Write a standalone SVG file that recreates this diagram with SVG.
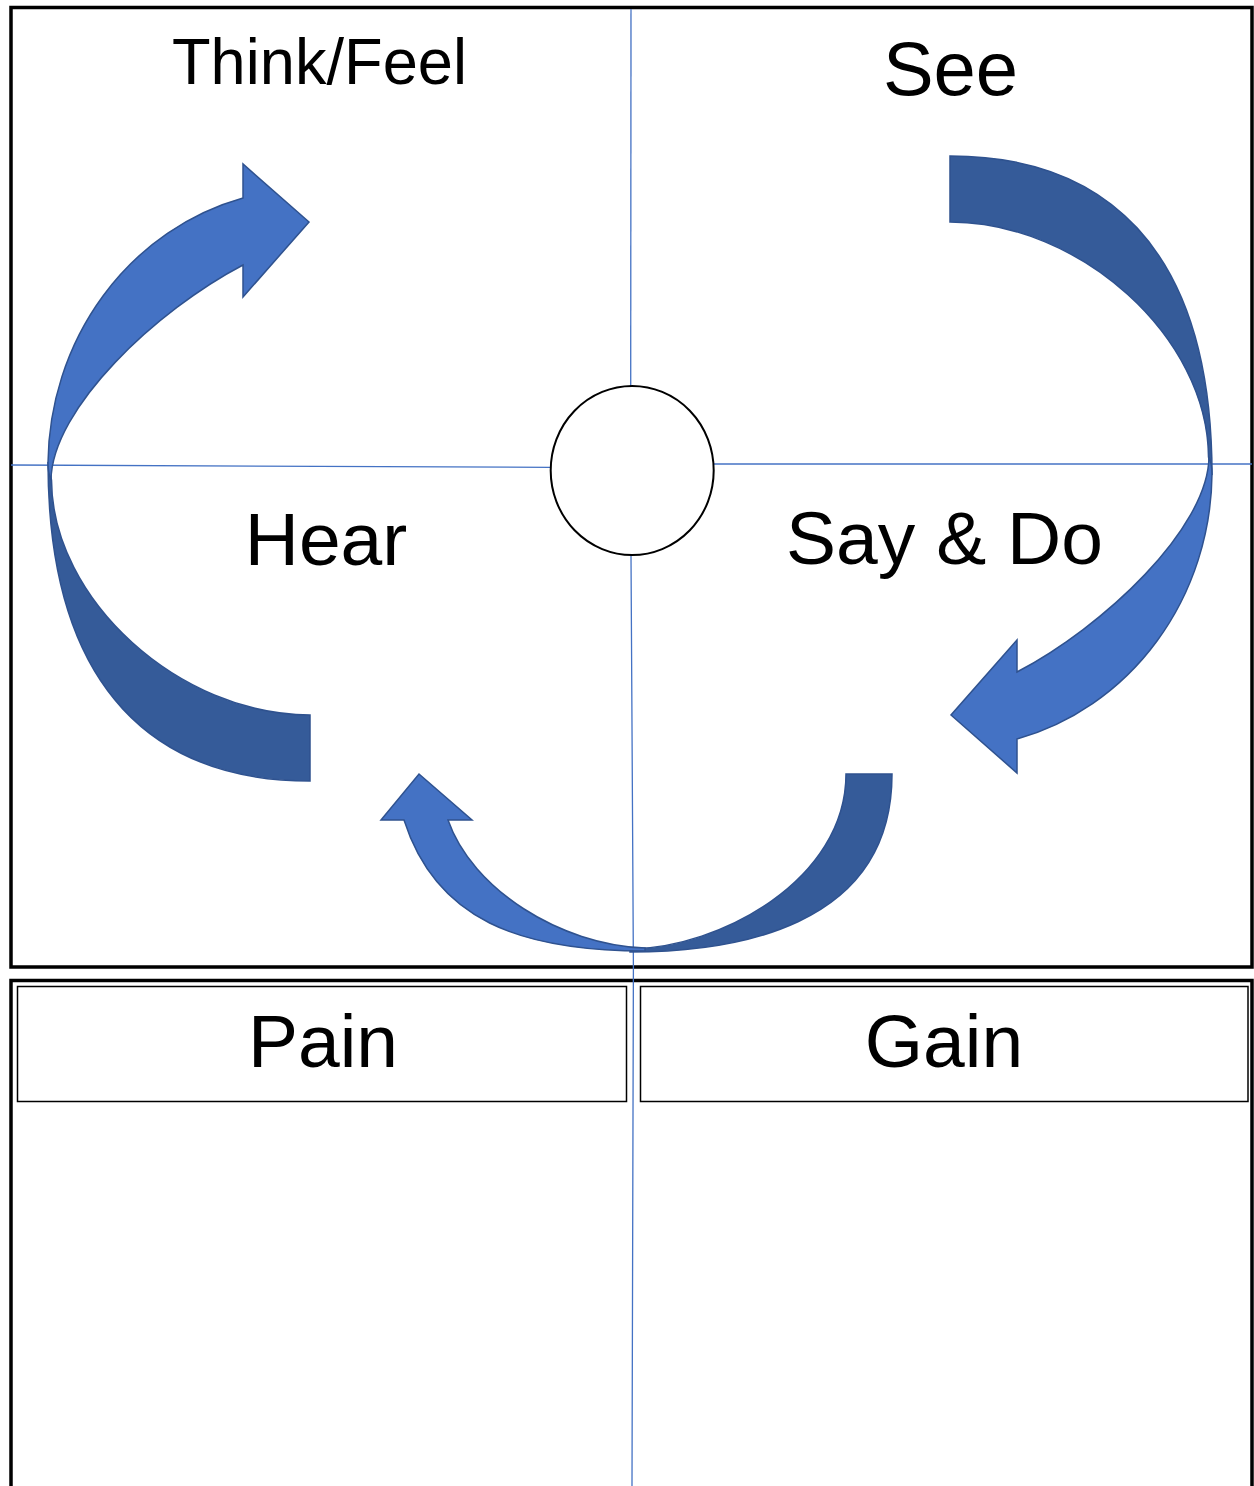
<svg xmlns="http://www.w3.org/2000/svg" width="1254" height="1486" viewBox="0 0 1254 1486">
<style>
.frame{fill:none;stroke:#000;stroke-width:3.5}
.hdr{fill:none;stroke:#000;stroke-width:1.5}
.guide{fill:none;stroke:#4472C4;stroke-width:1.3}
.lt{fill:#4472C4;stroke:#2F528F;stroke-width:1.5;stroke-linejoin:miter}
.dk{fill:#355B99;stroke:#2F528F;stroke-width:1.5}
.lbl{font-family:"Liberation Sans",Arial,sans-serif;fill:#000;text-anchor:middle}
</style>
<rect width="1254" height="1486" fill="#fff"/>
<g id="frames">
<rect class="frame" x="11" y="7.5" width="1241" height="959.5"/>
<path class="frame" d="M11,1490 V980.5 H1252 V1490"/>
</g>
<g id="connectors">
<path class="guide" d="M631,9 L630.7,386"/>
<path class="guide" d="M631,555 L633.4,967 L632,1486"/>
<path class="guide" d="M11,465 L550.7,467.3"/>
<path class="guide" d="M713.7,464 L1252,464"/>
</g>
<g id="arrow-left">
<path class="dk" d="M48,462 C48,695 160,781 310,781 L310,715 C180,715 52,600 51.5,480 Z"/>
<path class="lt" d="M51,480 C48.5,474 48,470 48,463 A262 277 0 0 1 243,198 L243,164 L309,222 L243,297 L243,265 C157,310 52,408 51,480 Z"/>
</g>
<g id="arrow-right" transform="rotate(180 630 468.5)">
<path class="dk" d="M48,462 C48,695 160,781 310,781 L310,715 C180,715 52,600 51.5,480 Z"/>
<path class="lt" d="M51,480 C48.5,474 48,470 48,463 A262 277 0 0 1 243,198 L243,164 L309,222 L243,297 L243,265 C157,310 52,408 51,480 Z"/>
</g>
<g id="arrow-bottom">
<path class="dk" d="M892,774 C892,930 730,952 630,952 L630,949 C720,948 846,880 846,774 Z"/>
<path class="lt" d="M645,951 C520,951 436,920 404,820 L381,820 L419,774 L472,820 L448,820 C472,889 560,945 645,948 Z"/>
</g>
<g id="center">
<ellipse cx="632.2" cy="470.5" rx="81.5" ry="84.5" fill="#fff" stroke="#000" stroke-width="2"/>
</g>
<g id="think-feel"><text class="lbl" x="319.5" y="83.5" font-size="65" textLength="295" lengthAdjust="spacingAndGlyphs">Think/Feel</text></g>
<g id="see"><text class="lbl" x="950.5" y="95" font-size="76">See</text></g>
<g id="hear"><text class="lbl" x="326" y="565" font-size="75">Hear</text></g>
<g id="say-do"><text class="lbl" x="944.5" y="563.5" font-size="75">Say &amp; Do</text></g>
<g id="pain">
<rect class="hdr" x="17.5" y="986.5" width="609" height="115"/>
<text class="lbl" x="323" y="1067" font-size="75">Pain</text>
</g>
<g id="gain">
<rect class="hdr" x="640.5" y="986.5" width="607.5" height="115"/>
<text class="lbl" x="944" y="1067" font-size="75">Gain</text>
</g>
</svg>
